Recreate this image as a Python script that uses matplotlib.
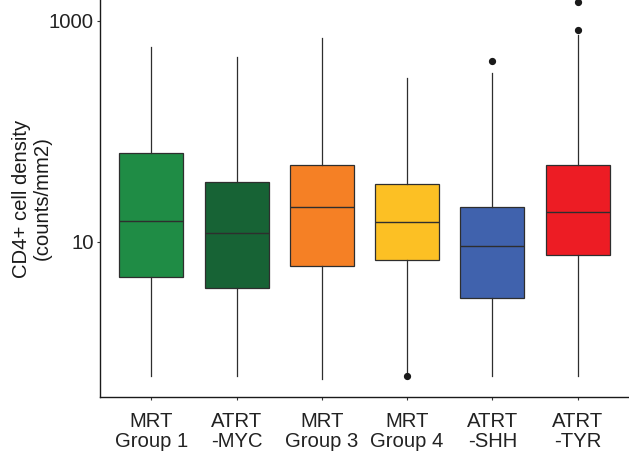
import matplotlib.pyplot as plt
import matplotlib.ticker as ticker
import numpy as np

plt.rcParams['font.family'] = ['Liberation Sans', 'DejaVu Sans']

# group labels and colours
groups = ['MRT\nGroup 1', 'ATRT\n-MYC', 'MRT\nGroup 3', 'MRT\nGroup 4', 'ATRT\n-SHH', 'ATRT\n-TYR']
colors = ['#1f8c45', '#176335', '#f58025', '#fcc024', '#4062ad', '#ed1c24']

# box statistics (counts/mm2)
whis_low = [0.607, 0.607, 0.574, 0.625, 0.607, 0.607]
q1 = [4.82, 3.83, 6.06, 6.78, 3.11, 7.53]
median = [15.3, 12.0, 20.8, 15.0, 9.2, 18.7]
q3 = [63.7, 35.0, 49.9, 33.5, 20.5, 49.2]
whis_high = [585, 475, 706, 303, 336, 747]
outliers = [[], [], [], [0.61], [434], [834, 1476]]

stats = []
for i in range(len(groups)):
    stats.append(dict(whislo=whis_low[i], q1=q1[i], med=median[i], q3=q3[i],
                      whishi=whis_high[i], fliers=outliers[i]))

fig = plt.figure(figsize=(6.29, 4.59), dpi=100)
ax = fig.add_axes([100 / 629, 62 / 459, 529 / 629, 397 / 459])

line = dict(color='#2e2e2e', linewidth=0.9)
bp = ax.bxp(stats, positions=np.arange(1, 7), widths=0.75, patch_artist=True,
            showcaps=False,
            boxprops=dict(edgecolor='#2e2e2e', linewidth=0.9),
            medianprops=dict(color='#2e2e2e', linewidth=1.0),
            whiskerprops=line,
            flierprops=dict(marker='o', markerfacecolor='#1a1a1a',
                            markeredgecolor='#1a1a1a', markersize=4.2))
for patch, c in zip(bp['boxes'], colors):
    patch.set_facecolor(c)

ax.set_yscale('log')
ax.set_ylim(10 ** -0.407, 10 ** 3.19)
ax.set_xlim(0.4, 6.6)
ax.yaxis.set_major_locator(ticker.FixedLocator([10, 1000]))
ax.yaxis.set_major_formatter(ticker.FixedFormatter(['10', '1000']))
ax.yaxis.set_minor_locator(ticker.NullLocator())
ax.set_xticks(np.arange(1, 7))
ax.set_xticklabels(groups, linespacing=1.12)

# y label placed in figure pixels
fig.text(31.5 / 629, 1 - 198.5 / 459, 'CD4+ cell density\n(counts/mm2)', fontsize=14.6,
         color='#1a1a1a', rotation=90, ha='center', va='center',
         multialignment='center', linespacing=1.12)
ax.tick_params(axis='both', labelsize=14.6, colors='#333333', length=2.5, width=0.8,
               labelcolor='#222222')
ax.tick_params(axis='x', pad=8)
ax.tick_params(axis='y', pad=2)
ax.spines['top'].set_visible(False)
ax.spines['right'].set_visible(False)
for s in ['left', 'bottom']:
    ax.spines[s].set_linewidth(1.0)
    ax.spines[s].set_color('#1a1a1a')

fig.savefig('out.png', dpi=100, facecolor='white')
